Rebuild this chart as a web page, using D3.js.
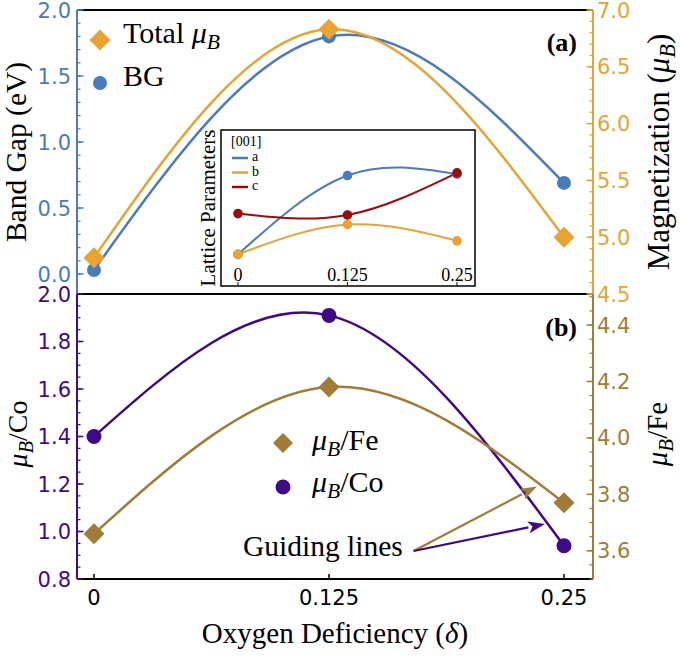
<!DOCTYPE html>
<html><head><meta charset="utf-8">
<script src="https://cdn.jsdelivr.net/npm/d3@7"></script>
<style>body{margin:0;background:#fff}svg{display:block}</style>
</head><body>
<svg id="c" width="680" height="658"></svg>
<script>
// ---- data ----
const deficiency = [0, 0.125, 0.25];
const xTickLabels = ["0", "0.125", "0.25"];
const bandGap = [0.03, 1.80, 0.69];          // eV (left, panel a)
const totalMag = [4.82, 6.83, 5.00];         // μB (right, panel a)
const muCo = [1.40, 1.91, 0.94];             // left, panel b
const muFe = [3.66, 4.18, 3.77];             // right, panel b
const latA = [0.10, 0.68, 0.69];             // inset, arbitrary units
const latB = [0.10, 0.32, 0.20];
const latC = [0.40, 0.39, 0.70];
const ticksBG = [0, 0.5, 1.0, 1.5, 2.0];
const ticksMag = [4.5, 5.0, 5.5, 6.0, 6.5, 7.0];
const ticksCo = [0.8, 1.0, 1.2, 1.4, 1.6, 1.8, 2.0];
const ticksFe = [3.6, 3.8, 4.0, 4.2, 4.4];
// guiding arrows: [x0, y0, x1, y1] in panel-b data (left scale)
const arrowFe = [0.170, 0.918, 0.2356, 1.19];
const arrowCo = [0.170, 0.918, 0.2399, 1.032];

const C = {blue:"#4a7bbd", orange:"#e8a331", purple:"#3f0a87", gold:"#a07c36", red:"#9a0c0c"};
const serif = "'Liberation Serif', 'Times New Roman', serif";
const sans = "'DejaVu Sans', sans-serif";

const svg = d3.select("#c");
const L = 77, R = 593, T1 = 10, B1 = 294, B2 = 579;

const x = d3.scaleLinear().domain([0, 0.25]).range([94, 564]);
const yBG = d3.scaleLinear().domain([0, 2]).range([274, 10]);
const yMag = d3.scaleLinear().domain([4.5, 7]).range([B1, T1]);
const yCo = d3.scaleLinear().domain([0.8, 2.0]).range([B2, B1]);
const yFe = d3.scaleLinear().domain([3.5, 4.51]).range([B2, B1]);

const line = (ys, sc, xs = x) => d3.line().curve(d3.curveNatural).x((d, i) => xs(deficiency[i])).y(d => sc(d))(ys);

function yAxis(scale, side, major, minorStep, color, y0, y1) {
  const g = svg.append("g");
  const ax = side === "left" ? L : R;
  const dir = side === "left" ? 1 : -1;
  g.append("line").attr("x1", ax).attr("x2", ax).attr("y1", y0).attr("y2", y1)
    .attr("stroke", color).attr("stroke-width", 2);
  const [d0, d1] = scale.domain();
  const minors = d3.range(Math.ceil(d0 / minorStep - 1e-6), Math.floor(d1 / minorStep + 1e-6) + 1).map(k => k * minorStep);
  g.selectAll(".mn").data(minors).join("line")
    .attr("x1", ax).attr("x2", ax + dir * 3.5).attr("y1", d => scale(d)).attr("y2", d => scale(d))
    .attr("stroke", color).attr("stroke-width", 1.2);
  g.selectAll(".mj").data(major).join("line")
    .attr("x1", ax).attr("x2", ax + dir * 6.5).attr("y1", d => scale(d)).attr("y2", d => scale(d))
    .attr("stroke", color).attr("stroke-width", 1.5);
  g.selectAll("text").data(major).join("text")
    .attr("x", side === "left" ? ax - 6 : ax + 4).attr("y", d => scale(d))
    .attr("dy", "0.36em").attr("text-anchor", side === "left" ? "end" : "start")
    .attr("font-family", sans).attr("font-size", 21).attr("fill", color)
    .text(d => d.toFixed(1));
}

// frames (black horizontal lines)
[T1, B1, B2].forEach(yy => svg.append("line").attr("x1", L).attr("x2", R).attr("y1", yy).attr("y2", yy)
  .attr("stroke", "#000").attr("stroke-width", 2));

yAxis(yBG, "left", ticksBG, 0.1, C.blue, T1, B1);
yAxis(yMag, "right", ticksMag, 0.1, C.orange, T1, B1);
yAxis(yCo, "left", ticksCo, 0.05, C.purple, B1, B2);
yAxis(yFe, "right", ticksFe, 0.05, C.gold, B1, B2);

// x axis
const xg = svg.append("g");
xg.selectAll("line").data(deficiency).join("line")
  .attr("x1", d => x(d)).attr("x2", d => x(d)).attr("y1", B2).attr("y2", B2 - 5)
  .attr("stroke", "#000").attr("stroke-width", 1.5);
xg.selectAll("text").data(deficiency).join("text")
  .attr("x", d => x(d)).attr("y", 605).attr("text-anchor", "middle")
  .attr("font-family", sans).attr("font-size", 21).attr("fill", "#000")
  .text((d, i) => xTickLabels[i]);

// diamonds / circles
const diamond = (g, cx, cy, r, color) => g.append("path")
  .attr("d", d3.symbol(d3.symbolSquare, 2 * r * r)())
  .attr("transform", `translate(${cx},${cy}) rotate(45)`).attr("fill", color);

// panel a curves
svg.append("path").attr("d", line(bandGap, yBG)).attr("fill", "none").attr("stroke", C.blue).attr("stroke-width", 2.5);
svg.append("path").attr("d", line(totalMag, yMag)).attr("fill", "none").attr("stroke", C.orange).attr("stroke-width", 2.5);
bandGap.forEach((v, i) => svg.append("circle").attr("cx", x(deficiency[i])).attr("cy", yBG(v)).attr("r", 7).attr("fill", C.blue));
totalMag.forEach((v, i) => diamond(svg, x(deficiency[i]), yMag(v), 10.5, C.orange));

// panel b curves
svg.append("path").attr("d", line(muCo, yCo)).attr("fill", "none").attr("stroke", C.purple).attr("stroke-width", 2.5);
svg.append("path").attr("d", line(muFe, yFe)).attr("fill", "none").attr("stroke", C.gold).attr("stroke-width", 2.5);
muCo.forEach((v, i) => svg.append("circle").attr("cx", x(deficiency[i])).attr("cy", yCo(v)).attr("r", 7.5).attr("fill", C.purple));
muFe.forEach((v, i) => diamond(svg, x(deficiency[i]), yFe(v), 10.5, C.gold));

// rich text helper for μ_B
function muText(g, attrs, before, after, size) {
  const t = g.append("text").attr("font-family", serif).attr("font-size", size).attr("fill", "#000");
  Object.entries(attrs).forEach(([k, v]) => t.attr(k, v));
  if (before) t.append("tspan").text(before);
  t.append("tspan").attr("font-style", "italic").text("μ");
  t.append("tspan").attr("font-style", "italic").attr("font-size", size * 0.72).attr("dy", size * 0.2).text("B");
  t.append("tspan").attr("dy", -size * 0.2).text(after);
  return t;
}

// legend a
diamond(svg, 100, 40, 10.5, C.orange);
svg.append("circle").attr("cx", 100).attr("cy", 83).attr("r", 7).attr("fill", C.blue);
muText(svg, {x: 123, y: 43}, "Total ", "", 30);
svg.append("text").attr("x", 123).attr("y", 86).attr("font-family", serif).attr("font-size", 30).text("BG");
svg.append("text").attr("x", 577).attr("y", 51).attr("text-anchor", "end").attr("font-family", serif)
  .attr("font-weight", "bold").attr("font-size", 26).text("(a)");

// legend b
diamond(svg, 283, 443, 10, C.gold);
svg.append("circle").attr("cx", 283).attr("cy", 487).attr("r", 7.5).attr("fill", C.purple);
muText(svg, {x: 312, y: 450}, "", "/Fe", 30);
muText(svg, {x: 312, y: 492}, "", "/Co", 30);
svg.append("text").attr("x", 577).attr("y", 336).attr("text-anchor", "end").attr("font-family", serif)
  .attr("font-weight", "bold").attr("font-size", 26).text("(b)");

// guiding lines
svg.append("text").attr("x", 243).attr("y", 556).attr("font-family", serif).attr("font-size", 29.5).text("Guiding lines");
function arrow(a, color) {
  const x0 = x(a[0]), y0 = yCo(a[1]), x1 = x(a[2]), y1 = yCo(a[3]);
  const ang = Math.atan2(y1 - y0, x1 - x0), len = 17, w = 6;
  const bx = x1 - len * Math.cos(ang), by = y1 - len * Math.sin(ang);
  svg.append("line").attr("x1", x0).attr("y1", y0).attr("x2", bx).attr("y2", by)
    .attr("stroke", color).attr("stroke-width", 2.2);
  const px = -Math.sin(ang) * w, py = Math.cos(ang) * w;
  svg.append("path").attr("d", `M${x1},${y1}L${bx + px},${by + py}L${bx + len * 0.25 * Math.cos(ang)},${by + len * 0.25 * Math.sin(ang)}L${bx - px},${by - py}Z`)
    .attr("fill", color);
}
arrow(arrowFe, C.gold);
arrow(arrowCo, C.purple);

// axis titles
svg.append("text").attr("transform", "translate(26,152) rotate(-90)").attr("text-anchor", "middle")
  .attr("font-family", serif).attr("font-size", 29.5).text("Band Gap (eV)");
muText(svg, {transform: "translate(669,152) rotate(-90)", "text-anchor": "middle"}, "Magnetization (", ")", 31);
muText(svg, {transform: "translate(27,434) rotate(-90)", "text-anchor": "middle"}, "", "/Co", 28);
muText(svg, {transform: "translate(667,434) rotate(-90)", "text-anchor": "middle"}, "", "/Fe", 29);
const xt = svg.append("text").attr("x", 335).attr("y", 643).attr("text-anchor", "middle")
  .attr("font-family", serif).attr("font-size", 29);
xt.append("tspan").text("Oxygen Deficiency (");
xt.append("tspan").attr("font-style", "italic").text("δ");
xt.append("tspan").text(")");

// ---- inset ----
const xi = d3.scaleLinear().domain([0, 0.25]).range([238, 457]);
const yi = d3.scaleLinear().domain([0, 1]).range([268, 132]);
const ins = svg.append("g");
ins.append("rect").attr("x", 221).attr("y", 130).attr("width", 254).attr("height", 156)
  .attr("fill", "#fff").attr("stroke", "#000").attr("stroke-width", 1.5);
ins.selectAll(".it").data(deficiency).join("line")
  .attr("x1", d => xi(d)).attr("x2", d => xi(d)).attr("y1", 286).attr("y2", 282)
  .attr("stroke", "#000").attr("stroke-width", 1);
ins.selectAll(".il").data(deficiency).join("text")
  .attr("x", d => xi(d)).attr("y", 281).attr("text-anchor", "middle")
  .attr("font-family", serif).attr("font-size", 18).text((d, i) => xTickLabels[i]);
ins.append("text").attr("transform", "translate(215,208) rotate(-90)").attr("text-anchor", "middle")
  .attr("font-family", serif).attr("font-size", 21).text("Lattice Parameters");
const lat = [[latA, C.blue, "a"], [latB, C.orange, "b"], [latC, C.red, "c"]];
lat.forEach(([vals, col]) => {
  ins.append("path").attr("d", line(vals, yi, xi)).attr("fill", "none").attr("stroke", col).attr("stroke-width", 2);
});
lat.forEach(([vals, col]) => {
  vals.forEach((v, i) => ins.append("circle").attr("cx", xi(deficiency[i])).attr("cy", yi(v)).attr("r", 4.8).attr("fill", col));
});
ins.append("text").attr("x", 231).attr("y", 146).attr("font-family", serif).attr("font-size", 14).text("[001]");
lat.forEach(([vals, col, name], k) => {
  const yy = 158 + k * 14.5;
  ins.append("line").attr("x1", 232).attr("x2", 248).attr("y1", yy).attr("y2", yy).attr("stroke", col).attr("stroke-width", 2.5);
  ins.append("text").attr("x", 252).attr("y", yy + 3).attr("font-family", serif).attr("font-size", 14).text(name);
});
</script>
</body></html>
